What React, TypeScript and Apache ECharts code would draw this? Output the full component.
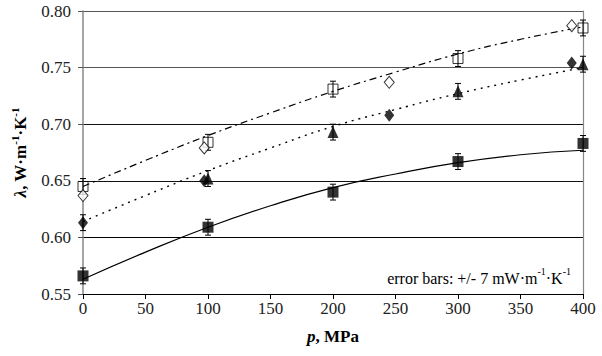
import React, { useEffect, useRef } from "react";
import * as echarts from "echarts";

// Measured data (pressure MPa, thermal conductivity W/(m·K))
const filledSquares: number[][] = [[0, 0.566], [100, 0.609], [200, 0.640], [300, 0.667], [400, 0.683]];
const openSquares: number[][] = [[0, 0.645], [100, 0.684], [200, 0.731], [300, 0.758], [400, 0.785]];
const filledTriangles: number[][] = [[100, 0.652], [200, 0.693], [300, 0.729], [400, 0.753]];
const filledDiamonds: number[][] = [[0, 0.613], [97, 0.650], [245, 0.708], [391, 0.754]];
const openDiamonds: number[][] = [[0, 0.637], [97, 0.679], [245, 0.737], [391, 0.787]];

// Trend lines
const solidTrend: number[][] = [[0, 0.563], [50, 0.587], [100, 0.609], [150, 0.628], [200, 0.644], [250, 0.656], [300, 0.666], [350, 0.673], [400, 0.677]];
const dashDotTrend: number[][] = [[0, 0.645], [50, 0.668], [100, 0.690], [150, 0.710], [200, 0.729], [250, 0.746], [300, 0.762], [350, 0.775], [400, 0.786]];
const dottedTrend: number[][] = [[0, 0.614], [50, 0.637], [100, 0.659], [150, 0.679], [200, 0.698], [250, 0.713], [300, 0.727], [350, 0.739], [400, 0.750]];

const errorHalf = 0.007;
const errorPoints: number[][] = [...filledSquares, ...openSquares, ...filledTriangles, filledDiamonds[0]];

const FONT = "'Liberation Serif', 'DejaVu Serif', 'Times New Roman', serif";

export default function App() {
  const ref = useRef<HTMLDivElement>(null);
  useEffect(() => {
    document.body.style.margin = "0";
    const chart = echarts.init(ref.current!, null, { renderer: "svg" });
    const errData = errorPoints.map(([x, y]) => [x, y - errorHalf, y + errorHalf]);
    chart.setOption({
      animation: false,
      backgroundColor: "#fff",
      textStyle: { fontFamily: FONT },
      grid: { left: 83, right: 19, top: 11, bottom: 62 },
      xAxis: {
        type: "value",
        min: 0,
        max: 400,
        interval: 50,
        name: "{i|p}{b|, MPa}",
        nameLocation: "middle",
        nameGap: 34,
        nameTextStyle: {
          rich: {
            i: { fontFamily: FONT, fontSize: 17, fontWeight: "bold", fontStyle: "italic", color: "#000" },
            b: { fontFamily: FONT, fontSize: 17, fontWeight: "bold", color: "#000" },
          },
        },
        axisLine: { show: true, onZero: false, lineStyle: { color: "#000", width: 1 } },
        axisTick: { show: true, inside: false, length: 5, lineStyle: { color: "#000" } },
        axisLabel: { fontFamily: FONT, fontSize: 17, color: "#222", margin: 6 },
        splitLine: { show: false },
      },
      yAxis: [
        {
          type: "value",
          min: 0.55,
          max: 0.8,
          interval: 0.05,
          name: "{i|λ}{b|, W·m}{s|-1}{b|·K}{s|-1}",
          nameLocation: "middle",
          nameRotate: 90,
          nameGap: 54,
          nameTextStyle: {
            rich: {
              i: { fontFamily: FONT, fontSize: 17, fontWeight: "bold", fontStyle: "italic", color: "#000", lineHeight: 20, verticalAlign: "bottom" },
              b: { fontFamily: FONT, fontSize: 17, fontWeight: "bold", color: "#000", lineHeight: 20, verticalAlign: "bottom" },
              s: { fontFamily: FONT, fontSize: 11, fontWeight: "bold", color: "#000", lineHeight: 20, verticalAlign: "top" },
            },
          },
          axisLine: { show: true, lineStyle: { color: "#888", width: 1.5 } },
          axisTick: { show: true, inside: false, length: 5, lineStyle: { color: "#555" } },
          axisLabel: { fontFamily: FONT, fontSize: 17, color: "#222", margin: 12, formatter: (v: number) => v.toFixed(2) },
          splitLine: { show: true, lineStyle: { color: ["#000", "#000", "#111", "#111", "#555", "#555"], width: 1 } },
        },
        {
          type: "value",
          min: 0.55,
          max: 0.8,
          position: "right",
          axisLine: { show: true, lineStyle: { color: "#888", width: 1.2 } },
          axisTick: { show: false },
          axisLabel: { show: false },
          splitLine: { show: false },
        },
      ],
      graphic: [
        {
          type: "text",
          right: 31,
          top: 266,
          style: {
            text: "{n|error bars: +/- 7 mW·m}{s|-1}{n|·K}{s|-1}",
            rich: {
              n: { fontFamily: FONT, fontSize: 16, color: "#111", lineHeight: 20, verticalAlign: "bottom" },
              s: { fontFamily: FONT, fontSize: 10, color: "#111", lineHeight: 20, verticalAlign: "top" },
            },
          },
        },
      ],
      series: [
        {
          type: "line",
          data: solidTrend,
          showSymbol: false,
          smooth: true,
          lineStyle: { color: "#000", width: 1.2, type: "solid" },
          z: 2,
        },
        {
          type: "line",
          data: dashDotTrend,
          showSymbol: false,
          smooth: true,
          lineStyle: { color: "#000", width: 1.2, type: [7, 4, 2, 4] },
          z: 2,
        },
        {
          type: "line",
          data: dottedTrend,
          showSymbol: false,
          smooth: true,
          lineStyle: { color: "#000", width: 1.4, type: [2, 5] },
          z: 2,
        },
        {
          type: "custom",
          data: errData,
          clip: false,
          z: 3,
          renderItem: (params: any, api: any) => {
            const x = api.value(0);
            const lo = api.value(1);
            const hi = api.value(2);
            const p1 = api.coord([x, hi]);
            const p2 = api.coord([x, lo]);
            const w = 3;
            const st = { stroke: "#000", lineWidth: 1 };
            return {
              type: "group",
              children: [
                { type: "line", shape: { x1: p1[0], y1: p1[1], x2: p2[0], y2: p2[1] }, style: st },
                { type: "line", shape: { x1: p1[0] - w, y1: p1[1], x2: p1[0] + w, y2: p1[1] }, style: st },
                { type: "line", shape: { x1: p2[0] - w, y1: p2[1], x2: p2[0] + w, y2: p2[1] }, style: st },
              ],
            };
          },
        },
        {
          type: "scatter",
          data: openSquares,
          symbol: "rect",
          symbolSize: 10,
          itemStyle: { color: "rgba(255,255,255,0)", borderColor: "#000", borderWidth: 1 },
          clip: false,
          z: 4,
        },
        {
          type: "scatter",
          data: openDiamonds,
          symbol: "diamond",
          symbolSize: [10, 12],
          itemStyle: { color: "#fff", borderColor: "#000", borderWidth: 1 },
          clip: false,
          z: 4,
        },
        {
          type: "scatter",
          data: filledTriangles,
          symbol: "triangle",
          symbolSize: [11, 12],
          itemStyle: { color: "#000" },
          clip: false,
          z: 4,
        },
        {
          type: "scatter",
          data: filledDiamonds,
          symbol: "diamond",
          symbolSize: [10, 13],
          itemStyle: { color: "#000" },
          clip: false,
          z: 4,
        },
        {
          type: "scatter",
          data: filledSquares,
          symbol: "rect",
          symbolSize: 11,
          itemStyle: { color: "#000" },
          clip: false,
          z: 4,
        },
      ],
    });
    return () => chart.dispose();
  }, []);
  return <div ref={ref} style={{ width: 602, height: 356 }} />;
}
